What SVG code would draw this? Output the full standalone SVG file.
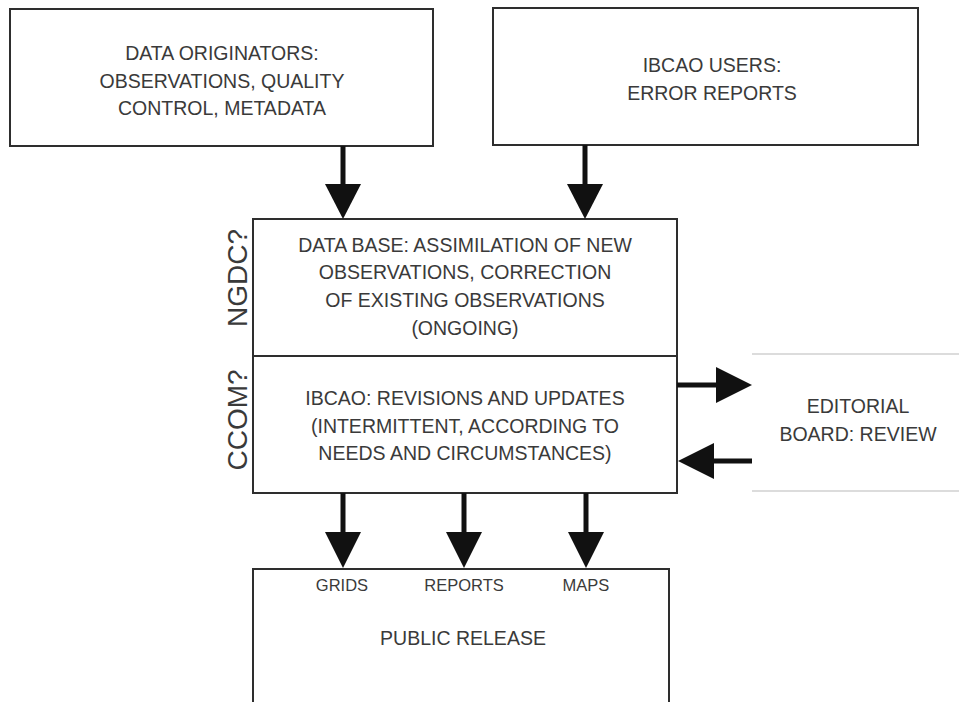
<svg xmlns="http://www.w3.org/2000/svg" width="959" height="702" viewBox="0 0 959 702">
<style>
.box{fill:#fff;stroke:#2e2e2e;stroke-width:2}
.t{font-family:"Liberation Sans",Arial,sans-serif;font-size:19.5px;fill:#3a3a3a;text-anchor:middle}
.s{font-family:"Liberation Sans",Arial,sans-serif;font-size:16.5px;fill:#3a3a3a;text-anchor:middle}
.side{font-family:"Liberation Sans",Arial,sans-serif;font-size:28px;fill:#3a3a3a;text-anchor:middle}
.shaft{stroke:#111;stroke-width:5;fill:none}
.head{fill:#111}
.faint{stroke:#dcdcdc;stroke-width:2}
</style>
<rect width="959" height="702" fill="#fff"/>
<g id="originators">
<rect class="box" x="10" y="9" width="423" height="137"/>
<text class="t" x="222" y="60">DATA ORIGINATORS:</text>
<text class="t" x="222" y="88">OBSERVATIONS, QUALITY</text>
<text class="t" x="222" y="115">CONTROL, METADATA</text>
</g>
<g id="users">
<rect class="box" x="493" y="8" width="425" height="137"/>
<text class="t" x="712" y="72">IBCAO USERS:</text>
<text class="t" x="712" y="100">ERROR REPORTS</text>
</g>
<g id="database">
<rect class="box" x="253" y="219" width="424" height="137"/>
<text class="t" x="465" y="252">DATA BASE: ASSIMILATION OF NEW</text>
<text class="t" x="465" y="279">OBSERVATIONS, CORRECTION</text>
<text class="t" x="465" y="307">OF EXISTING OBSERVATIONS</text>
<text class="t" x="465" y="335">(ONGOING)</text>
<text class="side" transform="translate(247 278) rotate(-90)">NGDC?</text>
</g>
<g id="ibcao">
<rect class="box" x="253" y="356" width="424" height="137"/>
<text class="t" x="465" y="405">IBCAO: REVISIONS AND UPDATES</text>
<text class="t" x="465" y="433">(INTERMITTENT, ACCORDING TO</text>
<text class="t" x="465" y="460">NEEDS AND CIRCUMSTANCES)</text>
<text class="side" transform="translate(247 420) rotate(-90)">CCOM?</text>
</g>
<g id="editorial">
<line class="faint" x1="752" y1="354" x2="959" y2="354"/>
<line class="faint" x1="752" y1="491" x2="959" y2="491"/>
<text class="t" x="858" y="413">EDITORIAL</text>
<text class="t" x="858" y="441">BOARD: REVIEW</text>
</g>
<g id="release">
<rect class="box" x="253" y="569" width="416" height="150"/>
<text class="s" x="342" y="591">GRIDS</text>
<text class="s" x="464" y="591">REPORTS</text>
<text class="s" x="586" y="591">MAPS</text>
<text class="t" x="463" y="645">PUBLIC RELEASE</text>
</g>
<g id="connectors">
<line class="shaft" x1="343" y1="146" x2="343" y2="186"/>
<polygon class="head" points="325,184 361,184 343,219"/>
<line class="shaft" x1="585" y1="145" x2="585" y2="186"/>
<polygon class="head" points="567,184 603,184 585,219"/>
<line class="shaft" x1="677" y1="385" x2="718" y2="385"/>
<polygon class="head" points="716,367 716,403 752,385"/>
<line class="shaft" x1="752" y1="461" x2="712" y2="461"/>
<polygon class="head" points="714,443 714,479 678,461"/>
<line class="shaft" x1="343" y1="493" x2="343" y2="534"/>
<polygon class="head" points="325,532 361,532 343,568"/>
<line class="shaft" x1="464" y1="493" x2="464" y2="534"/>
<polygon class="head" points="446,532 482,532 464,568"/>
<line class="shaft" x1="586" y1="493" x2="586" y2="534"/>
<polygon class="head" points="568,532 604,532 586,568"/>
</g>
</svg>
